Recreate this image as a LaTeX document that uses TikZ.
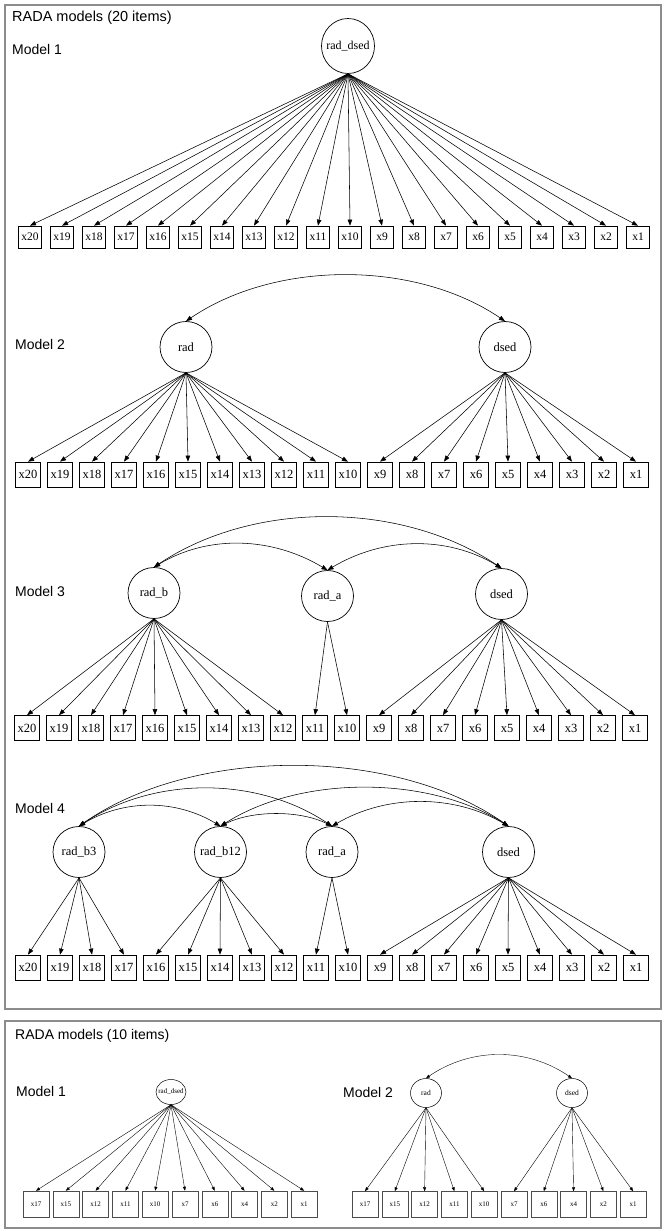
\documentclass[tikz,border=0pt]{standalone}
\usepackage{fontspec}
\setmainfont{Liberation Serif}
\newfontfamily\lsans{Liberation Sans}
\usetikzlibrary{shapes.geometric,arrows.meta,calc}
\newcommand{\zw}[1]{\makebox[0pt]{#1}}
\begin{document}
\begin{tikzpicture}[x=1pt,y=-1pt,
  frame/.style={draw=black!45,line width=1.3pt},
  lbl/.style={anchor=west,inner sep=0pt,font=\lsans\fontsize{14}{16}\selectfont},
  lat/.style={ellipse,draw,line width=0.7pt,inner sep=0pt,minimum width=52pt,minimum height=51pt,font=\fontsize{12.5}{14}\selectfont},
  obs/.style={rectangle,draw,line width=0.7pt,inner sep=0pt,minimum width=25pt,minimum height=25pt,font=\fontsize{12.5}{14}\selectfont},
  obsA/.style={obs,minimum width=23pt,minimum height=22pt,font=\fontsize{11.5}{12}\selectfont},
  latA/.style={lat,minimum width=53pt,minimum height=55pt,font=\fontsize{12}{13}\selectfont},
  latS/.style={lat,minimum width=31pt,minimum height=29pt,line width=0.5pt,font=\fontsize{7.5}{9}\selectfont},
  latT/.style={latS,minimum width=30pt,minimum height=25pt,font=\fontsize{7}{8}\selectfont},
  obsS/.style={obs,minimum width=26pt,minimum height=26pt,line width=0.5pt,draw=black!70,font=\fontsize{7}{8}\selectfont},
  load/.style={-{Triangle[length=6pt,width=4.5pt]},line width=0.55pt},
  cov/.style={{Triangle[length=6pt,width=4.5pt]}-{Triangle[length=6pt,width=4.5pt]},line width=0.55pt},
  loadS/.style={-{Triangle[length=4pt,width=3pt]},line width=0.4pt},
  covS/.style={{Triangle[length=4pt,width=3pt]}-{Triangle[length=4pt,width=3pt]},line width=0.4pt}]
\useasboundingbox (0,0) rectangle (666,1231);
\fill[white] (0,0) rectangle (666,1231);
% frames
\draw[frame] (5,5) rectangle (661,1009);
\draw[frame] (5,1021) rectangle (661,1228);
% labels
\node[lbl,font=\lsans\fontsize{14.5}{16}\selectfont] (t1) at (12,18) {RADA models (20 items)};
\node[lbl] (lm1) at (12,49) {Model 1};
\node[lbl] (lm2) at (15,344) {Model 2};
\node[lbl] (lm3) at (15,591) {Model 3};
\node[lbl] (lm4) at (15,808) {Model 4};
\node[lbl] (t2) at (15,1036) {RADA models (10 items)};
\node[lbl] (lm1b) at (16,1091) {Model 1};
\node[lbl] (lm2b) at (343,1092) {Model 2};
% ---------- Model 1 ----------
\node[latA] (m1L) at (348,46) {\zw{rad\_dsed}};
\foreach \i [count=\k from 0] in {20,19,...,1} {
  \node[obsA] (m1x\i) at ({30+32*\k},237) {x\i};
  \draw[load] (m1L.south) -- (m1x\i.north);
}
% ---------- Model 2 ----------
\node[lat] (m2r) at (186,347) {\zw{rad}};
\node[lat] (m2d) at (505,347) {\zw{dsed}};
\foreach \i [count=\k from 0] in {20,19,...,1}
  \node[obs] (m2x\i) at ({28+32*\k},474.5) {x\i};
\foreach \i in {20,19,...,10} \draw[load] (m2r.south) -- (m2x\i.north);
\foreach \i in {9,8,...,1} \draw[load] (m2d.south) -- (m2x\i.north);
\draw[cov] (m2r.north) .. controls ($(m2r.north)+(90,-61)$) and ($(m2d.north)+(-90,-61)$) .. (m2d.north);
% ---------- Model 3 ----------
\node[lat] (m3b) at (154,593) {\zw{rad\_b}};
\node[lat] (m3a) at (327.5,596) {\zw{rad\_a}};
\node[lat] (m3d) at (501.5,594) {\zw{dsed}};
\foreach \i [count=\k from 0] in {20,19,...,1}
  \node[obs] (m3x\i) at ({27+32*\k},728) {x\i};
\foreach \i in {20,19,...,12} \draw[load] (m3b.south) -- (m3x\i.north);
\foreach \i in {11,10} \draw[load] (m3a.south) -- (m3x\i.north);
\foreach \i in {9,8,...,1} \draw[load] (m3d.south) -- (m3x\i.north);
\draw[cov] (m3b.north) .. controls ($(m3b.north)+(100,-67)$) and ($(m3d.north)+(-100,-67)$) .. (m3d.north);
\draw[cov] (m3b.north) .. controls ($(m3b.north)+(55,-33)$) and ($(m3a.north)+(-55,-33)$) .. (m3a.north);
\draw[cov] (m3a.north) .. controls ($(m3a.north)+(55,-33)$) and ($(m3d.north)+(-55,-33)$) .. (m3d.north);
% ---------- Model 4 ----------
\node[lat] (m4b3) at (79,852) {\zw{rad\_b3}};
\node[lat] (m4b12) at (220.5,852) {\zw{rad\_b12}};
\node[lat] (m4a) at (332,852) {\zw{rad\_a}};
\node[lat] (m4d) at (508.5,852) {\zw{dsed}};
\foreach \i [count=\k from 0] in {20,19,...,1}
  \node[obs] (m4x\i) at ({28+32*\k},967.5) {x\i};
\foreach \i in {20,19,18,17} \draw[load] (m4b3.south) -- (m4x\i.north);
\foreach \i in {16,15,...,12} \draw[load] (m4b12.south) -- (m4x\i.north);
\foreach \i in {11,10} \draw[load] (m4a.south) -- (m4x\i.north);
\foreach \i in {9,8,...,1} \draw[load] (m4d.south) -- (m4x\i.north);
\draw[cov] (m4b3.north) .. controls ($(m4b3.north)+(115,-80)$) and ($(m4d.north)+(-115,-80)$) .. (m4d.north);
\draw[cov] (m4b3.north) .. controls ($(m4b3.north)+(75,-50)$) and ($(m4a.north)+(-75,-50)$) .. (m4a.north);
\draw[cov] (m4b12.north) .. controls ($(m4b12.north)+(80,-51)$) and ($(m4d.north)+(-80,-51)$) .. (m4d.north);
\draw[cov] (m4b3.north) .. controls ($(m4b3.north)+(45,-27)$) and ($(m4b12.north)+(-45,-27)$) .. (m4b12.north);
\draw[cov] (m4b12.north) .. controls ($(m4b12.north)+(32,-16)$) and ($(m4a.north)+(-32,-16)$) .. (m4a.north);
\draw[cov] (m4a.north) .. controls ($(m4a.north)+(55,-32)$) and ($(m4d.north)+(-55,-32)$) .. (m4d.north);
% ---------- 10 items, Model 1 ----------
\node[latT] (n1L) at (171,1092) {\zw{rad\_dsed}};
\foreach \i [count=\k from 0] in {17,15,12,11,10,7,6,4,2,1} {
  \node[obsS] (n1x\i) at ({36+29.8*\k},1204) {x\i};
  \draw[loadS] (n1L.south) -- (n1x\i.north);
}
% ---------- 10 items, Model 2 ----------
\node[latS] (n2r) at (426,1093) {\zw{rad}};
\node[latS] (n2d) at (572,1093) {\zw{dsed}};
\foreach \i [count=\k from 0] in {17,15,12,11,10,7,6,4,2,1}
  \node[obsS] (n2x\i) at ({365+29.8*\k},1204.5) {x\i};
\foreach \i in {17,15,12,11,10} \draw[loadS] (n2r.south) -- (n2x\i.north);
\foreach \i in {7,6,4,2,1} \draw[loadS] (n2d.south) -- (n2x\i.north);
\draw[covS] (n2r.north) .. controls ($(n2r.north)+(45,-31)$) and ($(n2d.north)+(-45,-31)$) .. (n2d.north);
\end{tikzpicture}
\end{document}
